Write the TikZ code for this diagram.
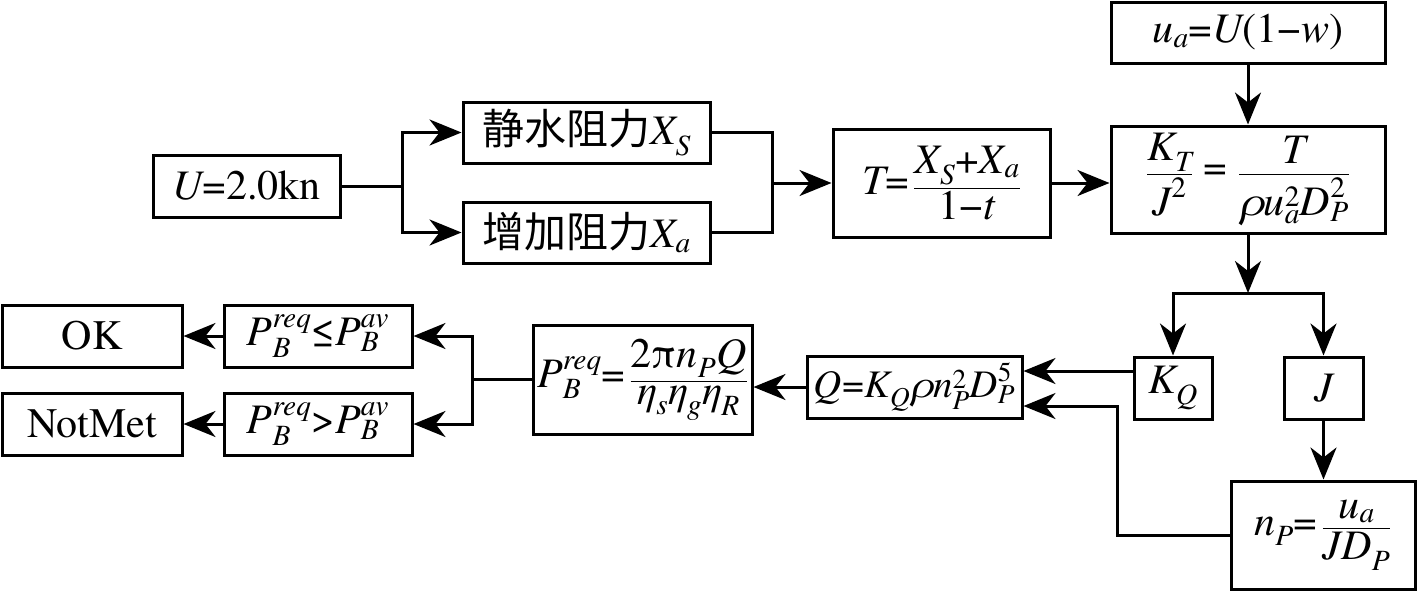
\documentclass[tikz,border=0pt]{standalone}
\usepackage{fontspec}
\setmainfont{texgyretermes}[Extension=.otf, UprightFont=*-regular, ItalicFont=*-italic, BoldFont=*-bold, BoldItalicFont=*-bolditalic]
\newfontfamily\cjk{Noto Sans CJK SC}
\usepackage{amsmath}
\usetikzlibrary{arrows.meta,calc}
\newcommand{\vi}[1]{\text{\itshape #1}}
\newcommand{\tx}[1]{\text{#1}}
\begin{document}
\begin{tikzpicture}[x=1pt,y=-1pt,
  box/.style={draw, line width=3pt, inner sep=0pt, anchor=center, font=\fontsize{42}{50}\selectfont},
  conn/.style={line width=3pt},
  arr/.style={conn, -{Stealth[length=32pt,width=26pt,inset=10pt]}}]
\useasboundingbox (0,0) rectangle (1417,598);
% nodes
\node[box, minimum width=187pt, minimum height=62pt] (U) at (246.5,186) {\vi{U}=2.0kn};
\node[box, minimum width=247pt, minimum height=61pt] (XS) at (586.5,132.5) {{\cjk 静水阻力}$\vi{X}_{\vi{S}}$};
\node[box, minimum width=247pt, minimum height=61pt] (Xa) at (586.5,232.5) {{\cjk 增加阻力}$\vi{X}_{\vi{a}}$};
\node[box, minimum width=217pt, minimum height=108pt] (T) at (941.5,183) {$\vi{T}\tx{=}\,\dfrac{\vi{X}_{\vi{S}}\tx{+}\vi{X}_{\vi{a}}}{\tx{1−}\vi{t}}$};
\node[box, minimum width=274pt, minimum height=107pt] (KT) at (1248,179.5) {$\dfrac{\vi{K}_{\vi{T}}}{\vi{J}^{\tx{2}}}\tx{ = }\dfrac{\hspace{0.3em}\vi{T}\hspace{0.3em}}{\vi{ρ}\vi{u}_{\vi{a}}^{\tx{2}}\vi{D}_{\vi{P}}^{\tx{2}}}$};
\node[box, minimum width=274pt, minimum height=61pt] (ua) at (1248,32.5) {$\vi{u}_{\vi{a}}\tx{=}\vi{U}\tx{(1−}\vi{w}\tx{)}$};
\node[box, minimum width=78pt, minimum height=62pt] (KQ) at (1173,388) {$\vi{K}_{\vi{Q}}$};
\node[box, minimum width=79pt, minimum height=62pt] (J) at (1323.5,388) {\itshape J};
\node[box, minimum width=184pt, minimum height=108pt] (nP) at (1323,535) {$\vi{n}_{\vi{P}}\tx{=}\,\dfrac{\vi{u}_{\vi{a}}}{\vi{J}\vi{D}_{\vi{P}}}$};
\node[box, minimum width=215pt, minimum height=62pt, font=\fontsize{39}{46}\selectfont] (Q) at (914.5,387) {$\vi{Q}\tx{=}\vi{K}_{\vi{Q}}\vi{ρ}\vi{n}_{\vi{P}}^{\tx{2}}\vi{D}_{\vi{P}}^{\tx{5}}$};
\node[box, minimum width=219pt, minimum height=109pt] (P) at (642.5,379.5) {$\vi{P}_{\vi{B}}^{\vi{req}}\tx{=}\,\dfrac{\tx{2π}\vi{n}_{\vi{P}}\vi{Q}}{\vi{η}_{\vi{s}}\vi{η}_{\vi{g}}\vi{η}_{\vi{R}}}$};
\node[box, minimum width=188pt, minimum height=62pt] (Ple) at (318,336) {$\vi{P}_{\vi{B}}^{\vi{req}}\tx{≤}\vi{P}_{\vi{B}}^{\vi{av}}$};
\node[box, minimum width=188pt, minimum height=62pt] (Pgt) at (318,424) {$\vi{P}_{\vi{B}}^{\vi{req}}\tx{>}\vi{P}_{\vi{B}}^{\vi{av}}$};
\node[box, minimum width=180pt, minimum height=62pt] (OK) at (92,336) {OK};
\node[box, minimum width=180pt, minimum height=62pt] (NM) at (92,424) {NotMet};
% junction coordinates
\coordinate (f1) at (402,186);
\coordinate (m1) at (772,183);
\coordinate (f2) at (1248,293);
\coordinate (c2) at (1117,406);
\coordinate (f3) at (472,379.5);
% connectors
\draw[conn] (U.east) -- (f1);
\draw[arr] (f1) |- (XS.west);
\draw[arr] (f1) |- (Xa.west);
\draw[conn] (XS.east) -| (m1);
\draw[conn] (Xa.east) -| (m1);
\draw[arr] (m1) -- (T.west);
\draw[arr] (T.east) -- (T.east -| KT.west);
\draw[arr] (ua.south) -- (KT.north);
\draw[arr] (KT.south) -- (f2);
\draw[arr] (f2) -| (KQ.north);
\draw[arr] (f2) -| (J.north);
\draw[arr] (J.south) -- (nP.north -| J.south);
\draw[arr] (nP.west) -| (c2) -- (c2 -| Q.east);
\draw[arr] ([yshift=17pt]KQ.west) -- ([yshift=16pt]Q.east);
\draw[arr] (Q.west) -- (Q.west -| P.east);
\draw[conn] (P.west) -- (f3);
\draw[arr] (f3) |- (Ple.east);
\draw[arr] (f3) |- (Pgt.east);
\draw[arr] (Ple.west) -- (OK.east);
\draw[arr] (Pgt.west) -- (NM.east);
\end{tikzpicture}
\end{document}
